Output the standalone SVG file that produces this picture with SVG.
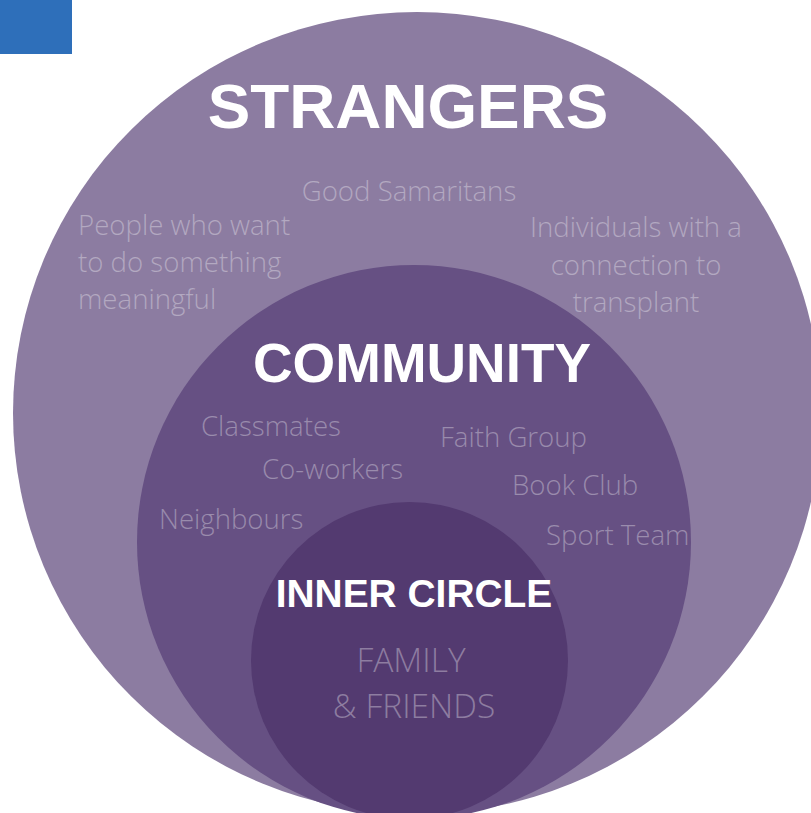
<svg xmlns="http://www.w3.org/2000/svg" width="811" height="813" viewBox="0 0 811 813">
<style>
.title{font-family:"Liberation Sans",Arial,sans-serif;font-weight:bold;fill:#ffffff;text-anchor:middle}
.lbl{font-family:"Open Sans","Noto Sans",sans-serif;font-weight:300;font-size:27.6px;fill:#ffffff;fill-opacity:0.34}
.big{font-size:33.5px}
.c{text-anchor:middle}
</style>
<rect x="0" y="0" width="811" height="813" fill="#ffffff"/>
<rect x="0" y="0" width="72" height="54" fill="#2e6fba"/>
<g id="strangers">
<ellipse cx="417" cy="413" rx="404" ry="401" fill="#8c7ca1"/>
<text class="title" x="408" y="128" font-size="63.8">STRANGERS</text>
<text class="lbl c" x="409" y="201">Good Samaritans</text>
<text class="lbl" x="78" y="235">People who want</text>
<text class="lbl" x="78" y="272">to do something</text>
<text class="lbl" x="78" y="309">meaningful</text>
<text class="lbl c" x="636" y="237">Individuals with a</text>
<text class="lbl c" x="636" y="275">connection to</text>
<text class="lbl c" x="636" y="312">transplant</text>
</g>
<g id="community">
<circle cx="414" cy="542" r="277" fill="#665083"/>
<text class="title" x="422" y="382" font-size="54.8">COMMUNITY</text>
<text class="lbl" x="201" y="436">Classmates</text>
<text class="lbl" x="262" y="479">Co-workers</text>
<text class="lbl" x="159" y="529">Neighbours</text>
<text class="lbl" x="440" y="447">Faith Group</text>
<text class="lbl" x="512" y="495">Book Club</text>
<text class="lbl" x="546" y="545">Sport Team</text>
</g>
<g id="inner-circle">
<circle cx="409.5" cy="660.5" r="158.5" fill="#533a70"/>
<text class="title" x="414" y="607" font-size="38.9">INNER CIRCLE</text>
<text class="lbl big c" x="411" y="672">FAMILY</text>
<text class="lbl big c" x="414" y="718">&amp; FRIENDS</text>
</g>
<g id="connectors"/>
</svg>
